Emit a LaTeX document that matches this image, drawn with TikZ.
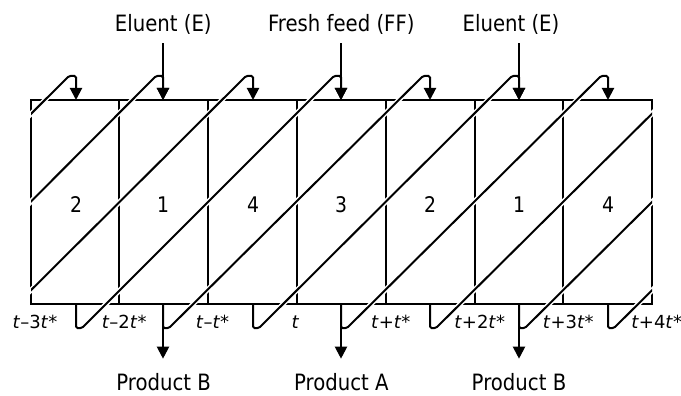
\documentclass[tikz,border=0pt]{standalone}
\usepackage{fontspec}
\setmainfont{DejaVu Sans}[FakeStretch=0.875]
\newfontfamily\tfont{DejaVu Sans}
\usetikzlibrary{arrows.meta,calc}
\begin{document}
\begin{tikzpicture}[x=1pt,y=-1pt,
  ln/.style={line width=2pt},
  arr/.style={ln,-{Triangle[width=12pt,length=12pt]}},
  halo/.style={line width=5pt,white},
  lab/.style={inner sep=0pt,anchor=base,font=\fontsize{22.5}{26}\selectfont},
  numlab/.style={inner sep=0pt,anchor=base,font=\fontsize{21.5}{24}\selectfont},
  tlab/.style={inner sep=0pt,anchor=base,font=\tfont\fontsize{18}{20}\selectfont},
]
\useasboundingbox (0,0) rectangle (681,396);
% column grid (boundaries 31,119,208,297,386,475,563,652)
\draw[ln] (31,100) rectangle (652,304);
\foreach \b in {119,208,297,386,475,563} {
  \draw[ln] (\b,100) -- (\b,304);
}
% column centres, named, and column numbers
\foreach \c/\d [count=\i] in {76/2,163/1,253/4,341/3,430/2,519/1,608/4} {
  \coordinate (top\i) at (\c,100);
  \coordinate (bot\i) at (\c,304);
  \node[numlab] (n\i) at (\c,212.5) {\d};
}
\def\CC{{-190,-101,-13,76,163,253,341,430,519,608,697,786,875}}
% white halos of the diagonal streams
\begin{scope}
  \clip (29,0) rectangle (655,396);
  \foreach \k in {-2,...,7} {
    \pgfmathsetmacro{\bx}{\CC[\k+2]}
    \pgfmathsetmacro{\tx}{\CC[\k+5]}
    \draw[halo] (\bx+6,328) -- (\tx-7,76);
  }
\end{scope}
% diagonal streams with hooks
\begin{scope}
  \clip (31,0) rectangle (652,396);
  \foreach \k in {-2,...,7} {
    \pgfmathsetmacro{\bx}{\CC[\k+2]}
    \pgfmathsetmacro{\tx}{\CC[\k+5]}
    \draw[arr,rounded corners=1.5pt] (\bx,304) -- (\bx,328) -- (\bx+6,328) -- (\tx-7,76) -- (\tx,76) -- (\tx,100);
  }
\end{scope}
% inlet labels and arrows
\node[lab] (el1) at (163.3,31.7) {Eluent (E)};
\node[lab] (ff) at (341.3,31.7) {Fresh feed (FF)};
\node[lab] (el2) at (511,31.7) {Eluent (E)};
\draw[arr] ($(el1.south -| top2)+(0,8.5)$) -- (top2);
\draw[arr] ($(ff.south -| top4)+(0,8.5)$) -- (top4);
\draw[arr] ($(el2.south -| top6)+(0,8.5)$) -- (top6);
% outlet labels and arrows
\node[lab] (pb1) at (163.7,390) {Product B};
\node[lab] (pa) at (341.3,390) {Product A};
\node[lab] (pb2) at (519,390) {Product B};
\draw[arr] (bot2) -- ($(pb1.north -| bot2)+(0,-14)$);
\draw[arr] (bot4) -- ($(pa.north -| bot4)+(0,-14)$);
\draw[arr] (bot6) -- ($(pb2.north -| bot6)+(0,-14)$);
% time labels
\node[tlab] (t1) at (35,328) {\textit{t}–3\textit{t}*};
\node[tlab] (t2) at (124.2,328) {\textit{t}–2\textit{t}*};
\node[tlab] (t3) at (212.5,328) {\textit{t}–\textit{t}*};
\node[tlab] (t4) at (295.5,328) {\textit{t}};
\node[tlab] (t5) at (390.8,328) {\textit{t}+\textit{t}*};
\node[tlab] (t6) at (479.7,328) {\textit{t}+2\textit{t}*};
\node[tlab] (t7) at (568.3,328) {\textit{t}+3\textit{t}*};
\node[tlab] (t8) at (656.7,328) {\textit{t}+4\textit{t}*};
\end{tikzpicture}
\end{document}
